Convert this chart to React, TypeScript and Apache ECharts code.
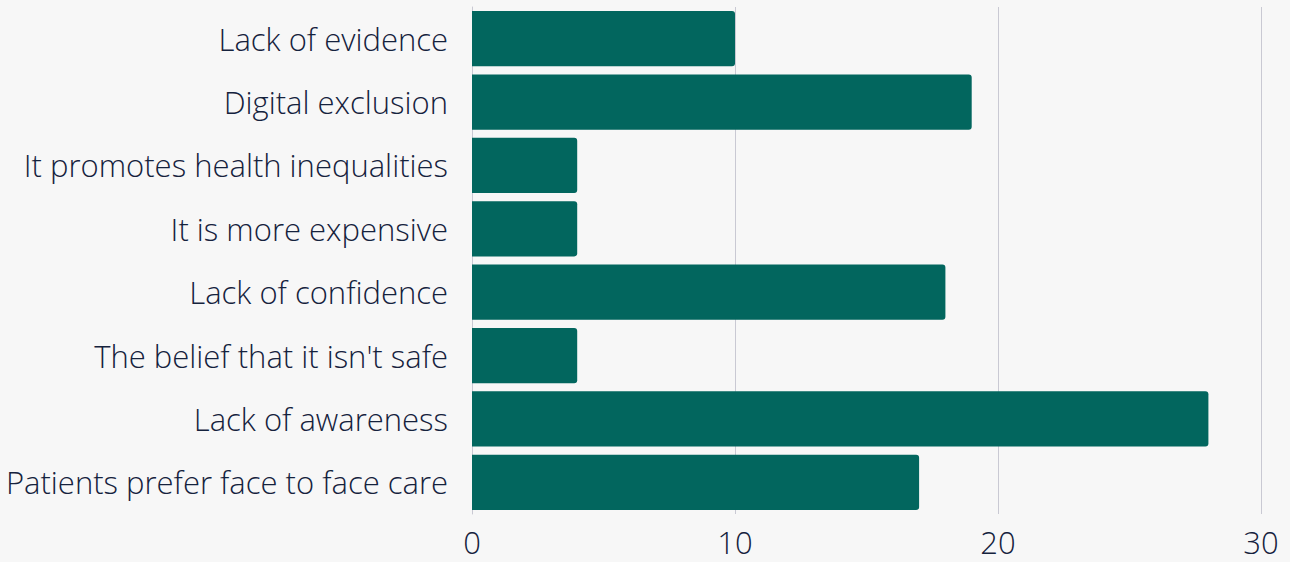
import React, { useEffect, useRef } from "react";
import * as echarts from "echarts";

const categories = [
  "Patients prefer face to face care",
  "Lack of awareness",
  "The belief that it isn't safe",
  "Lack of confidence",
  "It is more expensive",
  "It promotes health inequalities",
  "Digital exclusion",
  "Lack of evidence",
];
const values = [17, 28, 4, 18, 4, 4, 19, 10];
const xTicks = [0, 10, 20, 30];

export default function App() {
  const ref = useRef<HTMLDivElement>(null);
  useEffect(() => {
    const chart = echarts.init(ref.current!, null, { renderer: "svg" });
    chart.setOption({
      animation: false,
      backgroundColor: "#f7f7f7",
      grid: { left: 472, right: 29, top: 7, bottom: 48 },
      xAxis: {
        type: "value",
        min: xTicks[0],
        max: xTicks[xTicks.length - 1],
        interval: 10,
        axisLine: { show: false },
        axisTick: { show: false },
        splitLine: { lineStyle: { color: "#c9c9d3", width: 1 } },
        axisLabel: {
          color: "#15223d",
          fontFamily: "Open Sans",
          fontWeight: 300,
          fontSize: 31,
          margin: 12,
        },
      },
      yAxis: {
        type: "category",
        data: categories,
        axisLine: { show: true, lineStyle: { color: "#c9c9d3" } },
        axisTick: { show: false },
        axisLabel: {
          color: "#15223d",
          fontFamily: "Open Sans",
          fontWeight: 300,
          fontSize: 31,
          margin: 24,
        },
      },
      series: [
        {
          type: "bar",
          data: values,
          barCategoryGap: "13%",
          itemStyle: { color: "#02665e", borderRadius: [0, 3, 3, 0] },
        },
      ],
    });
    return () => chart.dispose();
  }, []);
  return <div ref={ref} style={{ width: 1290, height: 562, position: "absolute", left: 0, top: 0 }} />;
}
